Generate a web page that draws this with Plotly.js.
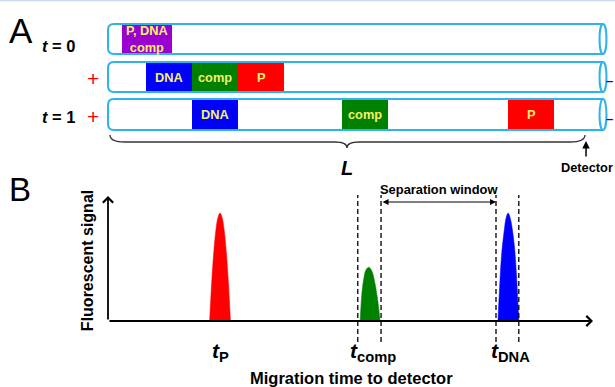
<!DOCTYPE html>
<html>
<head>
<meta charset="utf-8">
<script src="https://cdn.plot.ly/plotly-3.0.1.min.js"></script>
<style>html,body{margin:0;padding:0;background:#fff;}#chart{width:615px;height:387px;}</style>
</head>
<body>
<div id="chart"></div>
<script>
// ---------- Panel A: zones along the capillary (0 = inlet, 100 = outlet) ----------
var tubeRows = ["t = 0", "mid", "t = 1"];
var zoneRow   = [0, 1, 1, 1, 2, 2, 2];
var zoneLabel = ["P, DNA<br>comp", "DNA", "comp", "P", "DNA", "comp", "P"];
var zoneStart = [2.83, 7.68, 16.97, 26.26, 16.97, 47.27, 80.81];
var zoneEnd   = [12.93, 16.97, 26.26, 35.56, 26.26, 56.57, 90.10];
var zoneKind  = ["mix", "DNA", "comp", "P", "DNA", "comp", "P"];
var detectorPos = 96.57;

// ---------- Panel B: electropherogram peaks ----------
var peakP_t    = [20.95, 21.38, 21.81, 22.24, 22.67, 23.10, 23.53, 23.96, 24.39, 24.82, 25.25];
var peakP_sig  = [0, 0.311, 0.553, 0.726, 0.829, 0.864, 0.829, 0.726, 0.553, 0.311, 0];
var peakC_t    = [52.0, 52.3, 52.7, 53.2, 53.8, 54.4, 55.0, 55.6, 56.1];
var peakC_sig  = [0, 0.20, 0.33, 0.41, 0.43, 0.40, 0.31, 0.17, 0];
var peakD_t    = [80.40, 80.80, 81.20, 81.70, 82.10, 82.50, 82.90, 83.40, 83.90, 84.30, 84.70];
var peakD_sig  = [0, 0.311, 0.553, 0.726, 0.829, 0.864, 0.829, 0.726, 0.553, 0.311, 0];
var windowEdges = [51.5, 56.3, 80.0, 84.7];
var peakLabels = ["<i>t</i><sub>P</sub>", "<i>t</i><sub>comp</sub>", "<i>t</i><sub>DNA</sub>"];
var peakLabelPos = [23.1, 54.6, 83.0];

var FONT = "Liberation Sans, Arial, sans-serif";
var colors = {mix: "#9A00CF", DNA: "#0000FF", comp: "#008000", P: "#FF0000"};
var tubeColor = "#2EB3EC";
var textYellow = "#F7F06A";

// pixel-row geometry for panel A (y2 is in pixels, top-down)
var rowTop = [24, 62, 99], rowBot = [54, 92, 130];

var shapes = [], annotations = [];

// top border line
shapes.push({type: "line", xref: "paper", yref: "paper", x0: 0, x1: 1, y0: 0.999, y1: 0.999,
  line: {color: "#C8DBEE", width: 1.5}});

// tubes
tubeRows.forEach(function (r, i) {
  var t = rowTop[i], b = rowBot[i];
  shapes.push({type: "path", xref: "x2", yref: "y2",
    path: "M 100," + t + " L 1.2," + t + " Q 0," + t + " 0," + (t + 6) + " L 0," + (b - 6) +
          " Q 0," + b + " 1.2," + b + " L 100," + b,
    line: {color: tubeColor, width: 2}});
});

// zones
zoneLabel.forEach(function (lab, i) {
  var r = zoneRow[i];
  shapes.push({type: "rect", xref: "x2", yref: "y2", x0: zoneStart[i], x1: zoneEnd[i],
    y0: rowTop[r] + 1, y1: rowBot[r] - 1, fillcolor: colors[zoneKind[i]], line: {width: 0}, layer: "above"});
  annotations.push({xref: "x2", yref: "y2", x: (zoneStart[i] + zoneEnd[i]) / 2, y: (rowTop[r] + rowBot[r]) / 2,
    text: "<b>" + lab + "</b>", showarrow: false, font: {family: FONT, size: 12.8, color: textYellow}});
});

// tube right ends (ellipses)
tubeRows.forEach(function (r, i) {
  shapes.push({type: "circle", xref: "x2", yref: "y2", x0: 99.3, x1: 100.7,
    y0: rowTop[i], y1: rowBot[i], line: {color: tubeColor, width: 2}, fillcolor: "rgba(255,255,255,1)", layer: "above"});
});

// brace
shapes.push({type: "path", xref: "x2", yref: "y2",
  path: "M 0.4,135 Q 0.4,142 3.43,142 L 45.86,142 Q 48.28,142 48.28,148 Q 48.28,142 50.71,142 L 93.33,142 Q 96.36,142 96.36,135",
  line: {color: "#333333", width: 1.3}});

// panel A text
annotations.push({xref: "x2", yref: "y2", x: -17.6, y: 30, text: "A", showarrow: false,
  font: {family: FONT, size: 35, color: "#000"}});
annotations.push({xref: "x2", yref: "y2", x: -10.1, y: 46, text: "<b><i>t</i> = 0</b>", showarrow: false,
  font: {family: FONT, size: 16.5, color: "#000"}});
annotations.push({xref: "x2", yref: "y2", x: -10.1, y: 117, text: "<b><i>t</i> = 1</b>", showarrow: false,
  font: {family: FONT, size: 16.5, color: "#000"}});
[78, 116].forEach(function (yy) {
  annotations.push({xref: "x2", yref: "y2", x: -3.0, y: yy, text: "+", showarrow: false,
    font: {family: FONT, size: 21, color: "#FF0000"}});
  annotations.push({xref: "x2", yref: "y2", x: 102.4, y: yy + 2, xanchor: "right", text: "<b>–</b>", showarrow: false,
    font: {family: FONT, size: 13, color: "#0000FF"}});
});
annotations.push({xref: "x2", yref: "y2", x: 48.28, y: 168, text: "<b><i>L</i></b>", showarrow: false,
  font: {family: FONT, size: 20, color: "#000"}});
annotations.push({xref: "x2", yref: "y2", x: detectorPos, y: 141, ax: detectorPos, ay: 158, axref: "x2", ayref: "y2",
  showarrow: true, arrowhead: 2, arrowsize: 1, arrowwidth: 1.5, arrowcolor: "#000", text: ""});
annotations.push({xref: "x2", yref: "y2", x: detectorPos + 0.1, y: 167, text: "<b>Detector</b>", showarrow: false,
  font: {family: FONT, size: 12.8, color: "#000"}});

// ---------- panel B ----------
annotations.push({xref: "x", yref: "y", x: -18.1, y: 1.056, text: "B", showarrow: false,
  font: {family: FONT, size: 33, color: "#000"}});
// axes arrows
annotations.push({xref: "x", yref: "y", x: 100, y: 0, ax: 0, ay: 0, axref: "x", ayref: "y", text: "",
  showarrow: true, arrowhead: 4, arrowsize: 1.1, arrowwidth: 1.8, arrowcolor: "#000"});
annotations.push({xref: "x", yref: "y", x: 0, y: 1.0, ax: 0, ay: 0, axref: "x", ayref: "y", text: "",
  showarrow: true, arrowhead: 4, arrowsize: 1.1, arrowwidth: 1.8, arrowcolor: "#000"});
// dashed window lines
windowEdges.forEach(function (xv) {
  shapes.push({type: "line", xref: "x", yref: "y", x0: xv, x1: xv, y0: -0.168, y1: 1.008,
    line: {color: "#000", width: 1.3, dash: "5px,3px"}});
});
// separation window arrow
annotations.push({xref: "x", yref: "y", x: windowEdges[2], y: 0.952, ax: windowEdges[1], ay: 0.952,
  axref: "x", ayref: "y", text: "", showarrow: true, arrowside: "end+start", arrowhead: 2, startarrowhead: 2,
  arrowsize: 1, startarrowsize: 1, arrowwidth: 1.2, arrowcolor: "#000"});
annotations.push({xref: "x", yref: "y", x: 68.3, y: 1.05, text: "<b>Separation window</b>", showarrow: false,
  font: {family: FONT, size: 12.9, color: "#000"}});
// peak labels
peakLabels.forEach(function (lab, i) {
  annotations.push({xref: "x", yref: "y", x: peakLabelPos[i], y: -0.25, text: "<b>" + lab + "</b>", showarrow: false,
    font: {family: FONT, size: 21, color: "#000"}});
});
annotations.push({xref: "x", yref: "y", x: 50.3, y: -0.456, text: "<b>Migration time to detector</b>", showarrow: false,
  font: {family: FONT, size: 16.5, color: "#000"}});
annotations.push({xref: "x", yref: "y", x: -4.3, y: 0.48, text: "<b>Fluorescent signal</b>", showarrow: false,
  textangle: -90, font: {family: FONT, size: 16, color: "#000"}});

var traces = [
  {x: peakP_t, y: peakP_sig, type: "scatter", mode: "lines", fill: "toself", fillcolor: "#FF0000",
   line: {color: "#FF0000", width: 0.5, shape: "spline"}, hoverinfo: "skip"},
  {x: peakC_t, y: peakC_sig, type: "scatter", mode: "lines", fill: "toself", fillcolor: "#008000",
   line: {color: "#008000", width: 0.5, shape: "spline"}, hoverinfo: "skip"},
  {x: peakD_t, y: peakD_sig, type: "scatter", mode: "lines", fill: "toself", fillcolor: "#0000FF",
   line: {color: "#0000FF", width: 0.5, shape: "spline"}, hoverinfo: "skip"},
  {x: [0], y: [0], xaxis: "x2", yaxis: "y2", type: "scatter", mode: "markers", marker: {opacity: 0}, hoverinfo: "skip"}
];

var layout = {
  width: 615, height: 387,
  margin: {l: 0, r: 0, t: 0, b: 0},
  paper_bgcolor: "#fff", plot_bgcolor: "rgba(0,0,0,0)",
  showlegend: false,
  font: {family: FONT},
  xaxis: {range: [-22.268, 104.536], domain: [0, 1], visible: false, fixedrange: true},
  yaxis: {range: [-0.528, 2.568], domain: [0, 1], visible: false, fixedrange: true},
  xaxis2: {range: [-21.818, 102.424], domain: [0, 1], visible: false, overlaying: "x", fixedrange: true},
  yaxis2: {range: [387, 0], domain: [0, 1], visible: false, overlaying: "y", fixedrange: true},
  shapes: shapes,
  annotations: annotations
};

Plotly.newPlot("chart", traces, layout, {displayModeBar: false, staticPlot: true});
</script>
</body>
</html>
